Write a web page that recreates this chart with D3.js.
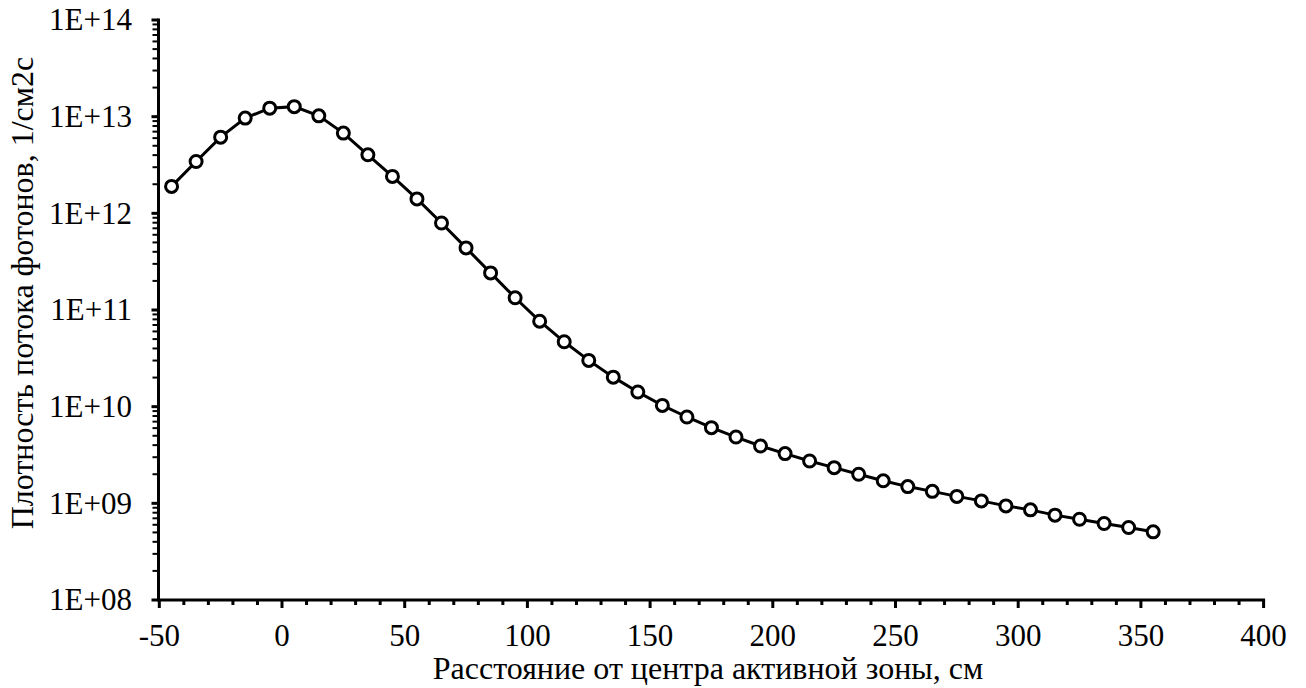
<!DOCTYPE html>
<html><head><meta charset="utf-8">
<script src="https://cdn.jsdelivr.net/npm/d3@7"></script>
</head><body style="margin:0">
<svg id="c" width="1306" height="688"></svg>
<script>
const distances = [-45,-35,-25,-15,-5,5,15,25,35,45,55,65,75,85,95,105,115,125,135,145,155,165,175,185,195,205,215,225,235,245,255,265,275,285,295,305,315,325,335,345,355];
const fluxValues = [1.9e12,3.44e12,6.14e12,9.66e12,1.225e13,1.27e13,1.02e13,6.76e12,4.03e12,2.41e12,1.41e12,7.94e11,4.39e11,2.42e11,1.34e11,7.66e10,4.69e10,3.01e10,2.02e10,1.42e10,1.03e10,7.82e9,6.07e9,4.85e9,3.92e9,3.27e9,2.74e9,2.34e9,2.0e9,1.71e9,1.49e9,1.33e9,1.18e9,1.06e9,9.41e8,8.56e8,7.55e8,6.85e8,6.19e8,5.63e8,5.07e8];
const xTicks = [-50,0,50,100,150,200,250,300,350,400];
const yTicks = [1e8,1e9,1e10,1e11,1e12,1e13,1e14];
const yTickLabels = ["1E+08","1E+09","1E+10","1E+11","1E+12","1E+13","1E+14"];
const xTitle = "Расстояние от центра активной зоны, см";
const yTitle = "Плотность потока фотонов, 1/см2с";

const svg = d3.select("#c");
const x = d3.scaleLinear().domain([-50,400]).range([159.3,1263.6]);
const y = d3.scaleLog().domain([1e8,1e14]).range([600,20]);
const fsTick = 31, fsTitle = 32;
const ff = "Liberation Serif";

const xMinor = d3.range(-50,401,10).filter(v=>v%50!==0);
const yMinor = [];
for (let e=8;e<14;e++) for (let m=2;m<=9;m++) yMinor.push(m*Math.pow(10,e));

// X axis
const gx = svg.append("g").attr("transform","translate(0,600)");
gx.append("line").attr("x1",x(-50)-1.5).attr("x2",x(400)+1.5).attr("stroke","#000").attr("stroke-width",3);
gx.selectAll(".mj").data(xTicks).enter().append("line")
  .attr("x1",d=>x(d)).attr("x2",d=>x(d)).attr("y1",0).attr("y2",8).attr("stroke","#000").attr("stroke-width",3);
gx.selectAll(".mn").data(xMinor).enter().append("line")
  .attr("x1",d=>x(d)).attr("x2",d=>x(d)).attr("y1",0).attr("y2",5).attr("stroke","#000").attr("stroke-width",3);
gx.selectAll(".tl").data(xTicks).enter().append("text")
  .attr("x",d=>x(d)).attr("y",46).attr("text-anchor","middle").attr("font-family",ff).attr("font-size",fsTick).text(d=>d);

// Y axis
const gy = svg.append("g").attr("transform","translate(158.5,0)");
gy.append("line").attr("y1",y(1e8)+1.5).attr("y2",y(1e14)-1.5).attr("stroke","#000").attr("stroke-width",3);
gy.selectAll(".mj").data(yTicks).enter().append("line")
  .attr("y1",d=>y(d)).attr("y2",d=>y(d)).attr("x1",0).attr("x2",-7).attr("stroke","#000").attr("stroke-width",3);
gy.selectAll(".mn").data(yMinor).enter().append("line")
  .attr("y1",d=>y(d)).attr("y2",d=>y(d)).attr("x1",0).attr("x2",-6).attr("stroke","#000").attr("stroke-width",2);
gy.selectAll(".tl").data(yTicks).enter().append("text")
  .attr("x",-26.5).attr("y",d=>y(d)).attr("dy","0.33em").attr("text-anchor","end").attr("font-family",ff).attr("font-size",fsTick).text((d,i)=>yTickLabels[i]);

// titles
svg.append("text").attr("x",708).attr("y",679).attr("text-anchor","middle").attr("font-family",ff).attr("font-size",fsTitle).text(xTitle);
svg.append("text").attr("transform","translate(33,293) rotate(-90)").attr("text-anchor","middle").attr("font-family",ff).attr("font-size",fsTitle).text(yTitle);

// series
const data = distances.map((d,i)=>({x:d,y:fluxValues[i]}));
svg.append("path").datum(data).attr("fill","none").attr("stroke","#000").attr("stroke-width",3)
  .attr("d",d3.line().x(d=>x(d.x)).y(d=>y(d.y)));
svg.selectAll(".pt").data(data).enter().append("circle")
  .attr("cx",d=>x(d.x)).attr("cy",d=>y(d.y)).attr("r",6).attr("fill","#fff").attr("stroke","#000").attr("stroke-width",3);
</script>
</body></html>
